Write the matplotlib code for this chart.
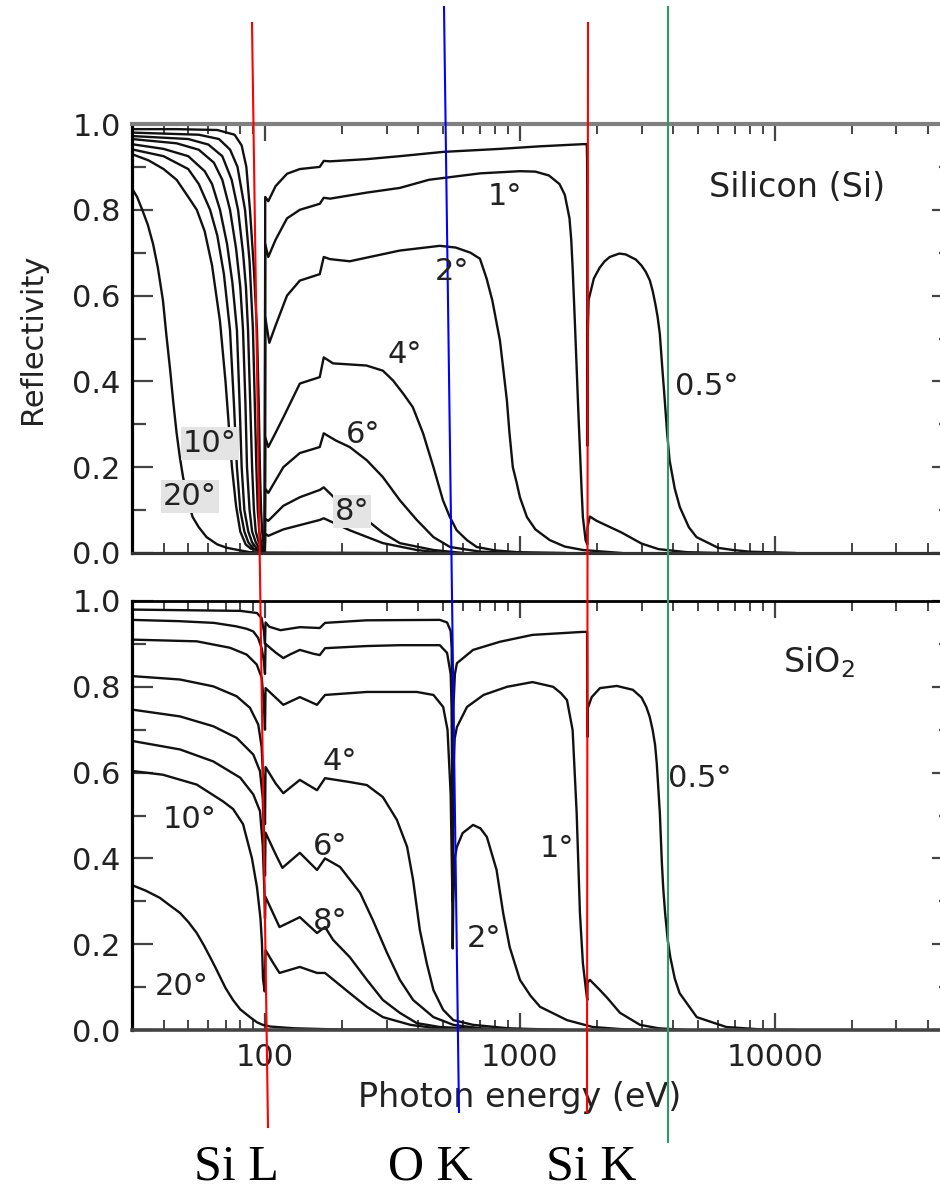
import matplotlib
matplotlib.use("Agg")
import matplotlib.pyplot as plt
from matplotlib.lines import Line2D
from matplotlib.ticker import FixedLocator, LogLocator, NullFormatter

# ---- data: (photon energy eV, reflectivity) ----
# Silicon panel
si_05 = [(30, 0.988), (45, 0.988), (65, 0.986), (76, 0.975), (81, 0.95), (84.5, 0.90), (87.3, 0.80),
         (90.5, 0.66), (93, 0.52), (94.5, 0.35), (95.5, 0.20), (96.5, 0.10), (97.5, 0.05), (98.5, 0.025),
         (99.3, 0.01), (99.9, 0.003), (100.2, 0.83), (103, 0.82), (110, 0.855), (122, 0.884), (137, 0.895),
         (164, 0.90), (170, 0.914), (180, 0.913), (250, 0.918), (338, 0.925), (500, 0.935), (835, 0.942),
         (1200, 0.948), (1766, 0.953), (1830, 0.953), (1837, 0.90), (1840, 0.25), (1844, 0.50), (1860, 0.59),
         (1950, 0.64), (2055, 0.665), (2150, 0.68), (2250, 0.69), (2455, 0.698), (2600, 0.696), (2850, 0.684),
         (3000, 0.67), (3120, 0.655), (3236, 0.635), (3320, 0.61), (3400, 0.58), (3470, 0.55), (3540, 0.51),
         (3620, 0.43), (3700, 0.356), (3780, 0.28), (3865, 0.216), (4050, 0.15), (4240, 0.107), (4600, 0.06),
         (4930, 0.037), (6000, 0.012), (6840, 0.007), (8000, 0.003), (12000, 0.0)]
si_1 = [(30, 0.98), (55, 0.975), (66, 0.965), (73, 0.94), (78, 0.90), (83.5, 0.80), (87, 0.68), (89.7, 0.52),
        (91.2, 0.35), (92.5, 0.20), (93.7, 0.10), (95, 0.05), (96.5, 0.025), (98, 0.01), (99.8, 0.003),
        (100.2, 0.72), (103, 0.69), (110, 0.73), (122, 0.78), (137, 0.80), (164, 0.814), (170, 0.828),
        (180, 0.826), (250, 0.84), (338, 0.851), (440, 0.87), (700, 0.885), (1000, 0.89), (1150, 0.889),
        (1300, 0.88), (1430, 0.86), (1500, 0.835), (1565, 0.78), (1590, 0.73), (1610, 0.665), (1640, 0.55),
        (1670, 0.43), (1695, 0.33), (1720, 0.24), (1745, 0.15), (1766, 0.084), (1810, 0.03), (1838, 0.02),
        (1842, 0.06), (1880, 0.085), (2000, 0.075), (2500, 0.048), (3000, 0.022), (3500, 0.009),
        (4500, 0.002), (6000, 0.0)]
si_2 = [(30, 0.972), (50, 0.965), (60, 0.952), (68, 0.925), (74, 0.87), (78.4, 0.80), (82, 0.70), (84.2, 0.62),
        (85.8, 0.52), (87.5, 0.35), (89, 0.20), (90.5, 0.10), (92, 0.05), (94.5, 0.025), (97, 0.01),
        (99.8, 0.003), (100.2, 0.55), (104, 0.49), (110, 0.53), (122, 0.60), (137, 0.635), (164, 0.65),
        (170, 0.69), (180, 0.685), (215, 0.68), (338, 0.705), (485, 0.716), (560, 0.712), (640, 0.70),
        (697, 0.686), (740, 0.64), (780, 0.588), (835, 0.495), (860, 0.43), (889, 0.356), (910, 0.28),
        (938, 0.20), (970, 0.165), (1000, 0.13), (1065, 0.084), (1150, 0.055), (1310, 0.03), (1500, 0.015),
        (1766, 0.007), (2500, 0.0)]
si_4 = [(30, 0.965), (45, 0.955), (55, 0.94), (63, 0.91), (68, 0.87), (72.9, 0.80), (77, 0.71), (80, 0.62),
        (82, 0.52), (83.8, 0.35), (85, 0.20), (87, 0.10), (89, 0.05), (92, 0.025), (95, 0.01), (99.8, 0.003),
        (100.2, 0.27), (103, 0.247), (110, 0.28), (118, 0.316), (137, 0.395), (164, 0.41), (170, 0.456),
        (185, 0.442), (250, 0.437), (290, 0.425), (318, 0.402), (350, 0.37), (380, 0.34), (417, 0.279),
        (458, 0.20), (499, 0.123), (530, 0.085), (565, 0.053), (620, 0.03), (677, 0.014), (800, 0.006),
        (973, 0.002), (1500, 0.0)]
si_6 = [(30, 0.953), (40, 0.942), (50, 0.925), (58, 0.89), (62, 0.86), (66.6, 0.80), (71, 0.72), (74.5, 0.63),
        (77.6, 0.52), (79.5, 0.35), (81, 0.20), (83, 0.10), (86, 0.05), (89, 0.025), (93, 0.01), (99.8, 0.003),
        (100.2, 0.15), (103, 0.14), (118, 0.20), (137, 0.233), (164, 0.247), (170, 0.279), (190, 0.262),
        (215, 0.247), (251, 0.216), (290, 0.177), (338, 0.123), (394, 0.077), (458, 0.037), (532, 0.014),
        (700, 0.003), (1000, 0.0)]
si_8 = [(30, 0.941), (40, 0.925), (50, 0.895), (55, 0.86), (60.9, 0.80), (65, 0.74), (69, 0.65), (72.9, 0.52),
        (75.5, 0.35), (77.6, 0.20), (80, 0.10), (83, 0.05), (86, 0.025), (90, 0.01), (99.8, 0.003),
        (100.2, 0.08), (103, 0.075), (118, 0.11), (137, 0.13), (164, 0.147), (170, 0.153), (190, 0.125),
        (215, 0.10), (251, 0.077), (290, 0.047), (338, 0.023), (458, 0.007), (600, 0.0)]
si_10 = [(30, 0.93), (35, 0.915), (40, 0.895), (45, 0.87), (50, 0.83), (54, 0.80), (58, 0.75), (62, 0.67),
         (66.6, 0.54), (70, 0.40), (74.2, 0.20), (77, 0.11), (80, 0.05), (84, 0.02), (88, 0.01), (99.8, 0.003),
         (100.2, 0.045), (103, 0.04), (118, 0.055), (137, 0.065), (164, 0.077), (170, 0.081), (215, 0.053),
         (290, 0.023), (394, 0.007), (500, 0.0)]
si_20 = [(30, 0.851), (31.5, 0.83), (33, 0.80), (34.7, 0.765), (36.4, 0.72), (38, 0.665), (39.8, 0.588),
         (41, 0.51), (42.4, 0.43), (43.7, 0.35), (45, 0.28), (46.3, 0.225), (47.7, 0.177), (50, 0.12),
         (52, 0.084), (55, 0.06), (59, 0.037), (65, 0.02), (71, 0.012), (80, 0.006), (87, 0.002), (100, 0.001),
         (300, 0.0)]

# SiO2 panel
ox_05 = [(30, 0.98), (80, 0.977), (93, 0.972), (97, 0.96), (99, 0.93), (100, 0.90), (100.5, 0.95), (104, 0.94),
         (115, 0.932), (137, 0.939), (164, 0.937), (172, 0.949), (250, 0.955), (485, 0.956), (518, 0.95),
         (535, 0.93), (540, 0.89), (543, 0.6), (545, 0.5), (548, 0.75), (556, 0.83), (566, 0.855), (655, 0.886),
         (835, 0.905), (1120, 0.921), (1766, 0.928), (1835, 0.928), (1839, 0.683), (1845, 0.75), (1913, 0.776),
         (2061, 0.797), (2400, 0.802), (2773, 0.793), (3000, 0.775), (3133, 0.753), (3230, 0.73),
         (3318, 0.699), (3390, 0.665), (3442, 0.622), (3490, 0.565), (3540, 0.505), (3605, 0.389),
         (3650, 0.33), (3713, 0.272), (3800, 0.21), (3890, 0.17), (4050, 0.12), (4230, 0.086), (4940, 0.03),
         (6450, 0.007), (9000, 0.001), (12000, 0.0)]
ox_1 = [(30, 0.956), (46, 0.953), (63, 0.949), (77, 0.941), (85, 0.935), (90, 0.929), (94, 0.914), (97, 0.89),
        (99, 0.86), (100, 0.83), (100.5, 0.90), (110, 0.88), (118, 0.867), (125, 0.875), (137, 0.886),
        (155, 0.877), (164, 0.874), (172, 0.89), (250, 0.895), (338, 0.897), (485, 0.897), (518, 0.879),
        (535, 0.83), (540, 0.75), (543, 0.5), (545, 0.30), (548, 0.6), (555, 0.68), (566, 0.706), (620, 0.753),
        (720, 0.781), (890, 0.80), (1120, 0.811), (1350, 0.80), (1450, 0.785), (1530, 0.769), (1610, 0.699),
        (1670, 0.505), (1720, 0.272), (1766, 0.156), (1830, 0.077), (1838, 0.07), (1842, 0.11), (1880, 0.117),
        (2061, 0.093), (2200, 0.075), (2470, 0.04), (2960, 0.012), (3500, 0.004), (4500, 0.0)]
ox_2 = [(30, 0.91), (54, 0.906), (72.9, 0.891), (84.8, 0.875), (92.8, 0.852), (97.1, 0.821), (99, 0.76),
        (100, 0.70), (100.5, 0.797), (110, 0.775), (118, 0.758), (137, 0.776), (160, 0.758), (172, 0.781),
        (251, 0.788), (394, 0.788), (458, 0.781), (500, 0.753), (520, 0.70), (535, 0.55), (542, 0.35),
        (545, 0.19), (548, 0.30), (555, 0.40), (566, 0.427), (596, 0.459), (655, 0.478), (700, 0.47),
        (742, 0.45), (810, 0.373), (860, 0.272), (912, 0.193), (1000, 0.117), (1100, 0.08), (1200, 0.054),
        (1530, 0.023), (1930, 0.007), (2500, 0.002), (3000, 0.0)]
ox_4 = [(30, 0.825), (46.4, 0.817), (62.7, 0.801), (77.4, 0.778), (87.3, 0.751), (94.1, 0.712), (97, 0.66),
        (99, 0.55), (100, 0.48), (100.5, 0.613), (110, 0.575), (118, 0.552), (137, 0.583), (160, 0.559),
        (172, 0.587), (215, 0.578), (251, 0.571), (290, 0.543), (329, 0.49), (361, 0.427), (381, 0.35),
        (405, 0.233), (431, 0.156), (458, 0.093), (500, 0.047), (548, 0.023), (655, 0.012), (900, 0.004),
        (1500, 0.0)]
ox_6 = [(30, 0.747), (46.4, 0.731), (62.7, 0.708), (77.4, 0.681), (90, 0.642), (95.6, 0.603), (98, 0.54),
        (99.5, 0.42), (100, 0.36), (100.5, 0.46), (110, 0.41), (117, 0.378), (137, 0.413), (160, 0.373),
        (172, 0.40), (197, 0.38), (236, 0.32), (265, 0.256), (301, 0.18), (338, 0.117), (381, 0.07),
        (458, 0.03), (548, 0.012), (700, 0.004), (1000, 0.0)]
ox_8 = [(30, 0.674), (46.4, 0.654), (62.7, 0.626), (80, 0.588), (90, 0.549), (95.6, 0.51), (98, 0.43),
        (99.5, 0.32), (100, 0.26), (100.5, 0.31), (108, 0.27), (114, 0.24), (137, 0.263), (160, 0.226),
        (172, 0.24), (185, 0.21), (215, 0.17), (251, 0.117), (290, 0.07), (338, 0.04), (394, 0.016),
        (485, 0.007), (700, 0.002), (1000, 0.0)]
ox_10 = [(30, 0.604), (39.8, 0.595), (54, 0.572), (68.4, 0.533), (75, 0.515), (82, 0.48), (88.9, 0.40),
         (93, 0.333), (96, 0.26), (97.3, 0.203), (98.2, 0.12), (99.7, 0.09), (100.5, 0.186), (108, 0.155),
         (114, 0.133), (137, 0.147), (160, 0.133), (172, 0.133), (215, 0.086), (251, 0.054), (290, 0.03),
         (372, 0.012), (458, 0.005), (600, 0.001), (800, 0.0)]
ox_20 = [(30, 0.338), (34, 0.325), (38.7, 0.308), (42, 0.292), (46.4, 0.273), (50, 0.252), (54, 0.226),
         (57.5, 0.198), (60.9, 0.17), (64, 0.145), (66.6, 0.124), (70, 0.098), (74.9, 0.07), (80, 0.048),
         (87.3, 0.03), (93, 0.018), (98, 0.012), (105, 0.008), (130, 0.004), (200, 0.001), (400, 0.0)]

si_curves = [si_05, si_1, si_2, si_4, si_6, si_8, si_10, si_20]
ox_curves = [ox_05, ox_1, ox_2, ox_4, ox_6, ox_8, ox_10, ox_20]

x_ticks = [100, 1000, 10000]
x_labels = ["100", "1000", "10000"]
y_ticks = [0.0, 0.2, 0.4, 0.6, 0.8, 1.0]
y_labels = ["0.0", "0.2", "0.4", "0.6", "0.8", "1.0"]
y_minor = [0.1, 0.3, 0.5, 0.7, 0.9]

# angle labels: text, pixel x, pixel baseline y
si_angle_labels = [("1°", 505, 205), ("2°", 452, 280), ("4°", 405, 363), ("6°", 363, 443),
                   ("8°", 352, 520), ("10°", 210, 452), ("20°", 190, 505), ("0.5°", 707, 395)]
ox_angle_labels = [("4°", 340, 770), ("6°", 330, 855), ("8°", 330, 930), ("2°", 484, 947),
                   ("1°", 557, 857), ("10°", 190, 828), ("20°", 182, 995), ("0.5°", 700, 787)]
shaded_labels = ["8°", "10°", "20°"]

# absorption-edge marker lines drawn over the figure (pixel coords) and their names
edge_marks = [((252, 23), (268, 1127), "#ff0000"), ((444, 7), (459, 1112), "#0000ff"),
              ((588, 23), (587, 1112), "#ff0000"), ((668, 7), (668, 1142), "#339966")]
edge_names = [("Si L", 236), ("O K", 430), ("Si K", 591)]

W, H = 940, 1192
fig = plt.figure(figsize=(W / 100, H / 100), dpi=100)


def fx(x):
    return x / W


def fy(y):
    return 1 - y / H


def box(x0, x1, ytop, ybot):
    return [fx(x0), fy(ybot), (x1 - x0) / W, (ybot - ytop) / H]


ax_si = fig.add_axes(box(131.7, 953, 124, 553))
ax_ox = fig.add_axes(box(131.7, 953, 601, 1030))

txt = "#222222"
for ax, curves in ((ax_si, si_curves), (ax_ox, ox_curves)):
    for c in curves:
        e, r = zip(*c)
        ax.plot(e, r, color="#111111", lw=1.7, solid_joinstyle="round")
    ax.set_xscale("log")
    ax.set_xlim(30, 50000)
    ax.set_ylim(0, 1)
    ax.xaxis.set_major_locator(FixedLocator(x_ticks))
    ax.xaxis.set_minor_locator(LogLocator(base=10, subs=range(2, 10), numticks=20))
    ax.xaxis.set_minor_formatter(NullFormatter())
    ax.set_xticklabels(x_labels)
    ax.set_yticks(y_ticks)
    ax.set_yticklabels(y_labels)
    ax.yaxis.set_minor_locator(FixedLocator(y_minor))
    ax.tick_params(which="both", direction="in", top=True, right=True, colors="#444444",
                   labelcolor=txt, labelsize=22)
    ax.tick_params(axis="y", which="major", length=15, width=1.6, pad=8)
    ax.tick_params(axis="y", which="minor", length=10, width=1.6)
    ax.tick_params(axis="x", which="major", length=12, width=1.6, pad=9)
    ax.tick_params(axis="x", which="minor", length=7, width=1.4)
    ax.spines["left"].set_linewidth(2.3)
    ax.spines["left"].set_color("black")

ax_si.tick_params(labelbottom=False)
ax_si.spines["top"].set_color("#808080")
ax_si.spines["top"].set_linewidth(3)
ax_si.spines["bottom"].set_color("#333333")
ax_si.spines["bottom"].set_linewidth(2.3)
ax_ox.spines["top"].set_color("black")
ax_ox.spines["top"].set_linewidth(2)
ax_ox.spines["bottom"].set_color("#444444")
ax_ox.spines["bottom"].set_linewidth(2.6)

ax_si.set_ylabel("Reflectivity", fontsize=22, color=txt, va="center")
ax_si.yaxis.set_label_coords((33 - 131.7) / 821.3, 0.5)
ax_ox.set_xlabel("Photon energy (eV)", fontsize=24, color=txt, va="center")
ax_ox.xaxis.set_label_coords((520 - 131.7) / 821.3, (1030 - 1098) / 429)

fig.text(fx(797), fy(197), "Silicon (Si)", fontsize=24, color=txt, ha="center", va="baseline")
fig.text(fx(783), fy(672), "SiO$_2$", fontsize=24, color=txt, ha="left", va="baseline")

for s, x, y in si_angle_labels + ox_angle_labels:
    kw = {}
    if s in shaded_labels and y < 560:
        kw["bbox"] = dict(facecolor="#e4e4e4", edgecolor="none", pad=1.5)
    fig.text(fx(x), fy(y), s, fontsize=22, color=txt, ha="center", va="baseline", **kw)

for (x0, y0), (x1, y1), col in edge_marks:
    fig.add_artist(Line2D([fx(x0), fx(x1)], [fy(y0), fy(y1)], color=col, lw=1.5))

for s, x in edge_names:
    fig.text(fx(x), fy(1179), s, fontsize=36, family="Liberation Serif", color="black",
             ha="center", va="baseline")

fig.savefig("out.png", dpi=100)
